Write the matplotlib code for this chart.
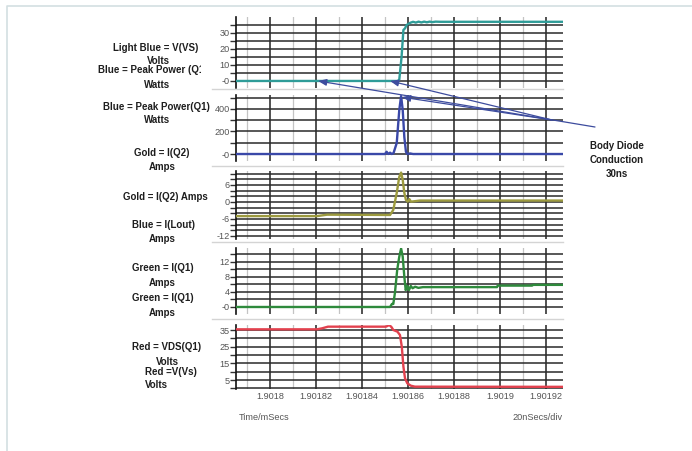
import matplotlib
matplotlib.use("Agg")
import matplotlib.pyplot as plt
from matplotlib.patches import ConnectionPatch
from matplotlib.lines import Line2D
from matplotlib.transforms import Bbox
import numpy as np

# time base: ns after 1.9018 ms
T0_MS = 1.9018

# Light Blue = V(VS), Volts
vs_ns = [-15, 55.5, 56.2, 57.2, 58.0, 58.7, 59.4, 60.1, 61.0, 62.2, 63.4, 64.6, 65.8, 67.0, 68.2, 69.4, 70.6, 72.0, 74.0, 128]
vs_val = [0, 0, 0.8, 15, 31.9, 32.9, 35.0, 35.6, 36.4, 37.0, 36.5, 37.1, 36.6, 37.1, 36.7, 37.1, 36.8, 37.1, 37.0, 37.0]

# Blue = Peak Power(Q1), Watts
pp_ns = [-15, 50.0, 50.7, 51.4, 52.2, 52.9, 53.7, 55.1, 56.2, 57.0, 57.7, 58.4, 59.1, 59.7, 60.9, 62.2, 63.0, 128]
pp_val = [0, 0, 20, 0, 12, 0, 8, 98, 390, 515, 390, 150, 20, 0, 5, 0, 0, 0]

# Gold = I(Q2), Amps
iq2_ns = [-15, 20.4, 24.8, 52.2, 53.6, 55.1, 56.2, 57.0, 57.7, 58.4, 59.1, 59.9, 60.6, 61.3, 65.2, 128]
iq2_val = [-5.0, -5.0, -4.5, -4.6, -2.8, 3.2, 8.9, 10.4, 7.8, 3.2, 0.7, 0.1, 1.0, 0.1, 0.5, 0.5]

# Green = I(Q1), Amps
iq1_ns = [-15, 52.2, 53.0, 53.6, 54.3, 55.3, 56.2, 57.0, 57.7, 58.4, 59.0, 59.7, 60.4, 61.2, 62.0, 63.1, 64.5, 66.5, 98.7, 99.0, 114.0, 114.3, 128]
iq1_val = [0, 0, 0.8, 0.8, 3.7, 9.9, 13.4, 15.6, 13.4, 8.1, 4.5, 5.6, 4.5, 5.6, 5.0, 5.4, 5.1, 5.3, 5.3, 5.7, 5.7, 5.9, 5.9]

# Red = VDS(Q1), Volts
vds_ns = [-15, 20.4, 22.6, 25.2, 50.4, 51.9, 52.9, 53.6, 55.4, 56.5, 57.3, 58.0, 58.7, 59.7, 61.2, 63.0, 128]
vds_val = [35.4, 35.4, 36.0, 37.0, 37.0, 38.0, 36.6, 35.0, 34.0, 32.0, 25.0, 13.0, 6.0, 3.0, 1.6, 1.0, 0.9]

# x axis labels
x_ticks_ms = [1.9018, 1.90182, 1.90184, 1.90186, 1.90188, 1.9019, 1.90192]
x_tick_labels = ["1.9018", "1.90182", "1.90184", "1.90186", "1.90188", "1.9019", "1.90192"]

# per panel: labelled y ticks and their text
y_ticks = [[0, 10, 20, 30], [0, 200, 400], [-12, -6, 0, 6], [0, 4, 8, 12], [5, 15, 25, 35]]
y_tick_labels = [["-0", "10", "20", "30"], ["-0", "200", "400"], ["-12", "-6", "0", "6"],
                 ["-0", "4", "8", "12"], ["5", "15", "25", "35"]]
y_grid_step = [5, 100, 2, 2, 5]

W, H = 692, 451


def fx(x):
    return x / W


def fy(y):
    return 1 - y / H


def to_ms(ns):
    return T0_MS + np.asarray(ns) * 1e-6


def make_chart(output_path):
    plt.rcParams['font.family'] = ['Liberation Sans', 'DejaVu Sans']
    fig = plt.figure(figsize=(W / 100, H / 100), dpi=100)

    # panel boxes in pixels (top, bottom) and y ranges matched to the picture
    boxes = [(17, 88), (95, 161), (171, 239), (248, 314), (325, 389)]
    ylims = [(-4.4, 40.0), (-62, 524), (-13.1, 10.95), (-1.87, 15.73), (-0.4, 38.0)]
    xlim = (to_ms(-14.8), to_ms(127.4))
    left, right = 236, 563

    series = [
        (vs_ns, vs_val, "#2f9c98"),
        (pp_ns, pp_val, "#3a48a8"),
        (iq2_ns, iq2_val, "#9c9a3e"),
        (iq1_ns, iq1_val, "#2e8a3c"),
        (vds_ns, vds_val, "#e2414e"),
    ]

    axes = []
    for i, ((top, bot), ylim) in enumerate(zip(boxes, ylims)):
        ax = fig.add_axes([fx(left), fy(bot), fx(right - left), (bot - top) / H])
        ax.patch.set_visible(False)
        ax.set_xlim(*xlim)
        ax.set_ylim(*ylim)

        # vertical grid: 20ns major (dark), 10ns minor (light)
        for t in np.arange(1.90178, 1.90194, 0.00001):
            major = abs(round(t * 1e5) % 2) == 0
            ax.axvline(t, color="#222222" if major else "#c4c4c4",
                       lw=1.1 if major else 0.9, zorder=1)

        # horizontal grid lines with outward ticks
        step = y_grid_step[i]
        lo = np.ceil(ylim[0] / step) * step
        levels = np.arange(lo, ylim[1], step)
        for v in levels:
            ax.axhline(v, color="#2a2a2a", lw=1.1, zorder=1)
        ax.set_yticks(y_ticks[i])
        ax.set_yticklabels(y_tick_labels[i])
        ax.set_yticks([v for v in levels if v not in y_ticks[i]], minor=True)
        ax.tick_params(axis="y", which="both", direction="out", length=4, width=1,
                       color="#333333", labelsize=6.6, labelcolor="#555555", pad=0.5)

        for side in ["top", "right", "bottom"]:
            ax.spines[side].set_visible(False)
        ax.spines["left"].set_color("#111111")
        ax.spines["left"].set_linewidth(1.2)

        ns, val, col = series[i]
        ax.plot(to_ms(ns), val, color=col, lw=1.7, zorder=3, solid_joinstyle="round")

        if i < 4:
            ax.set_xticks([])
        else:
            ax.set_xticks(x_ticks_ms)
            ax.set_xticklabels(x_tick_labels)
            ax.tick_params(axis="x", length=0, labelsize=6.6, labelcolor="#555555", pad=2)
        axes.append(ax)

    # light grey separators between the panels
    for y in [89, 166, 242, 319]:
        fig.add_artist(Line2D([fx(212), fx(563)], [fy(y), fy(y)], color="#d4d4d4", lw=1))

    # frame of the screenshot
    fig.add_artist(Line2D([fx(7), fx(7), fx(692)], [fy(451), fy(6), fy(6)], color="#d3dfe1", lw=1.2))

    # left hand trace labels
    lab = dict(fontsize=7, fontweight="bold", color="#1e1e1e", ha="center", va="center")
    labels = [
        ("Light Blue = V(VS)", 156, 48), ("Volts", 158, 61), ("Watts", 157, 85),
        ("Blue = Peak Power(Q1)", 156, 107), ("Watts", 157, 120),
        ("Gold = I(Q2)", 162, 153), ("Amps", 162, 167),
        ("Gold = I(Q2) Amps", 165, 197),
        ("Blue = I(Lout)", 163, 225), ("Amps", 162, 239),
        ("Green = I(Q1)", 163, 268), ("Amps", 162, 283),
        ("Green = I(Q1)", 163, 298), ("Amps", 162, 313),
        ("Red = VDS(Q1)", 167, 347), ("Volts", 167, 362),
        ("Red =V(Vs)", 171, 372),
    ]
    for text, x, y in labels:
        fig.text(fx(x), fy(y), text, **lab)
    fig.text(fx(145), fy(385), "Volts", fontsize=7, fontweight="bold", color="#1e1e1e",
             ha="left", va="center")
    # this one is cut off in the original
    clipped = fig.text(fx(98), fy(70), "Blue = Peak Power (Q1)", fontsize=7, fontweight="bold",
                       color="#1e1e1e", ha="left", va="center")
    clipped.set_clip_box(Bbox.from_extents(0, 0, 201, H))
    clipped.set_clip_on(True)

    fig.text(fx(617), fy(160), "Body Diode\nConduction\n30ns", fontsize=7, fontweight="bold",
             color="#1e1e1e", ha="center", va="center", linespacing=1.55)

    fig.text(fx(264), fy(418), "Time/mSecs", fontsize=6.6, color="#555555", ha="center", va="center")
    fig.text(fx(563), fy(418), "20nSecs/div", fontsize=6.6, color="#555555", ha="right", va="center")

    # arrows pointing at the body diode conduction interval
    arrows = [
        ((595, 127), axes[0], (20.9, 0)),
        ((552, 120), axes[0], (52.2, 0)),
        ((552, 120), axes[1], (57.4, 505)),
    ]
    for (tx, ty), ax, (tns, v) in arrows:
        cp = ConnectionPatch(xyA=(fx(tx), fy(ty)), coordsA=fig.transFigure,
                             xyB=(to_ms(tns), v), coordsB=ax.transData,
                             arrowstyle="-|>,head_length=0.5,head_width=0.2",
                             color="#3d4c9e", lw=0.9, shrinkA=0, shrinkB=0, zorder=5)
        fig.add_artist(cp)

    fig.savefig(output_path, dpi=100)
    print(f"saved {output_path}")


if __name__ == "__main__":
    make_chart("out.png")
